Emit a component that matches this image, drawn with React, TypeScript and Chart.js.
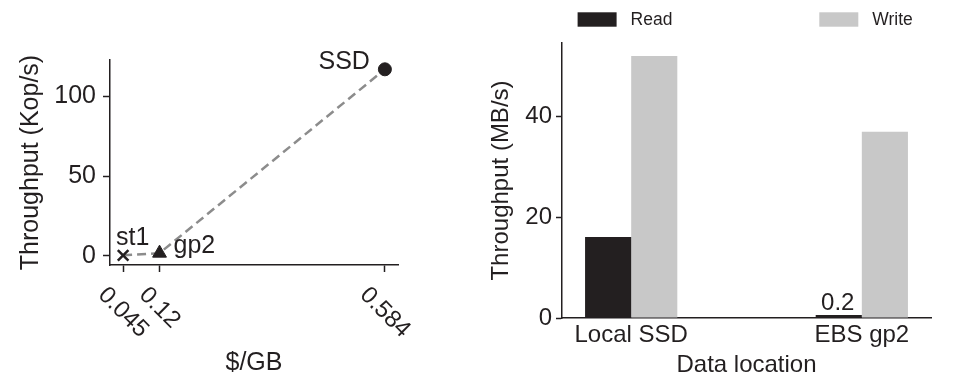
import React, { useEffect, useRef } from 'react';
import { Chart, registerables } from 'chart.js';

Chart.register(...registerables);

// ---- Left panel data ----
const storageNames = ['st1', 'gp2', 'SSD'];
const costPerGB = [0.045, 0.12, 0.584];
const throughputKops = [0.2, 1.6, 117];
const costTicks = [0.045, 0.12, 0.584];
const costTickLabels = ['0.045', '0.12', '0.584'];
const kopsTicks = [0, 50, 100];

// ---- Right panel data ----
const locations = ['Local SSD', 'EBS gp2'];
const seriesNames = ['Read', 'Write'];
const readMBs = [16.1, 0.2];
const writeMBs = [52, 37];
const mbsTicks = [0, 20, 40];

const INK = '#231f20';
const GREY_BAR = '#c8c8c8';
const DASH = '#8c8c8c';
const FAMILY = "'Liberation Sans', Arial, Helvetica, sans-serif";
const LEFT_SIZE = 25;
const RIGHT_SIZE = 24;

const rotatedCostTicks = {
  id: 'rotatedCostTicks',
  afterDraw(chart: any) {
    const { ctx, chartArea } = chart;
    const x = chart.scales.x;
    ctx.save();
    ctx.font = `${LEFT_SIZE - 1}px ${FAMILY}`;
    ctx.fillStyle = INK;
    ctx.textAlign = 'center';
    ctx.textBaseline = 'middle';
    costTicks.forEach((v, i) => {
      const label = costTickLabels[i];
      const w = ctx.measureText(label).width;
      const h = LEFT_SIZE * 0.72;
      const half = ((w + h) * Math.SQRT1_2) / 2;
      ctx.save();
      ctx.translate(x.getPixelForValue(v), chartArea.bottom + 20 + half);
      ctx.rotate(Math.PI / 4);
      ctx.fillText(label, 0, 0);
      ctx.restore();
    });
    ctx.restore();
  },
};

const pointNotes = {
  id: 'pointNotes',
  afterDatasetsDraw(chart: any) {
    const { ctx } = chart;
    const pts = chart.getDatasetMeta(0).data;
    const place = [
      { dx: -7, dy: -10.5, align: 'left' },
      { dx: 14, dy: 0, align: 'left' },
      { dx: -15, dy: 0, align: 'right' },
    ];
    ctx.save();
    ctx.font = `${LEFT_SIZE}px ${FAMILY}`;
    ctx.fillStyle = INK;
    ctx.textBaseline = 'alphabetic';
    storageNames.forEach((name, i) => {
      const p = pts[i];
      const o = place[i];
      ctx.textAlign = o.align;
      ctx.fillText(name, p.x + o.dx, p.y + o.dy);
    });
    ctx.restore();
  },
};

const seriesLegend = {
  id: 'seriesLegend',
  afterDraw(chart: any) {
    const { ctx, chartArea } = chart;
    const starts = [15.6, 257.3];
    ctx.save();
    ctx.font = `17.5px ${FAMILY}`;
    ctx.textBaseline = 'middle';
    ctx.textAlign = 'left';
    chart.data.datasets.forEach((ds: any, i: number) => {
      const x0 = chartArea.left + starts[i];
      ctx.fillStyle = ds.backgroundColor;
      ctx.fillRect(x0, 12.3, 39, 14.4);
      ctx.fillStyle = INK;
      ctx.fillText(ds.label, x0 + 53, 19.8);
    });
    ctx.restore();
  },
};

const barNotes = {
  id: 'barNotes',
  afterDatasetsDraw(chart: any) {
    const { ctx } = chart;
    const meta = chart.getDatasetMeta(0);
    ctx.save();
    ctx.font = `${RIGHT_SIZE}px ${FAMILY}`;
    ctx.fillStyle = INK;
    ctx.textAlign = 'center';
    ctx.textBaseline = 'alphabetic';
    readMBs.forEach((v, i) => {
      if (v >= 1) return;
      const bar = meta.data[i];
      ctx.fillText(String(v), bar.x - 1, bar.y - 5);
    });
    ctx.restore();
  },
};

export default function App() {
  const leftRef = useRef<HTMLCanvasElement>(null);
  const rightRef = useRef<HTMLCanvasElement>(null);

  useEffect(() => {
    const leftFont = { family: FAMILY, size: LEFT_SIZE };
    const rightFont = { family: FAMILY, size: RIGHT_SIZE };

    const left = new Chart(leftRef.current as HTMLCanvasElement, {
      type: 'line',
      data: {
        datasets: [
          {
            label: 'Throughput',
            data: costPerGB.map((x, i) => ({ x, y: throughputKops[i] })),
            borderColor: DASH,
            borderWidth: 2.5,
            borderDash: [9, 5],
            tension: 0,
            fill: false,
            pointStyle: ['crossRot', 'triangle', 'circle'],
            pointRadius: [7.5, 8, 6.5],
            pointBorderWidth: [2.5, 1, 1],
            pointBackgroundColor: INK,
            pointBorderColor: INK,
          } as any,
        ],
      },
      options: {
        responsive: false,
        animation: false,
        layout: { padding: { left: 0, right: 82, top: 60, bottom: 0 } },
        plugins: { legend: { display: false }, tooltip: { enabled: false } },
        scales: {
          x: {
            type: 'linear',
            min: 0.018,
            max: 0.611,
            afterBuildTicks: (s: any) => {
              s.ticks = costTicks.map((v) => ({ value: v }));
            },
            afterFit: (s: any) => {
              s.height = 122;
            },
            ticks: { display: false, autoSkip: false },
            grid: {
              display: true,
              drawOnChartArea: false,
              drawTicks: true,
              tickLength: 7,
              tickColor: INK,
              tickWidth: 1.5,
            },
            border: { display: true, color: INK, width: 1.5 },
            title: {
              display: true,
              text: '$/GB',
              color: INK,
              font: leftFont,
              padding: { top: 0, bottom: 9 },
            },
          },
          y: {
            type: 'linear',
            min: -5.85,
            max: 122.85,
            afterBuildTicks: (s: any) => {
              s.ticks = kopsTicks.map((v) => ({ value: v }));
            },
            afterFit: (s: any) => {
              s.width = 110;
            },
            ticks: { color: INK, font: leftFont, padding: 7 },
            grid: {
              display: true,
              drawOnChartArea: false,
              drawTicks: true,
              tickLength: 7,
              tickColor: INK,
              tickWidth: 1.5,
            },
            border: { display: true, color: INK, width: 1.5 },
            title: {
              display: true,
              text: 'Throughput (Kop/s)',
              color: INK,
              font: leftFont,
              padding: { top: 16, bottom: 0 },
            },
          },
        },
      } as any,
      plugins: [rotatedCostTicks, pointNotes],
    });

    const right = new Chart(rightRef.current as HTMLCanvasElement, {
      type: 'bar',
      data: {
        datasets: [
          {
            label: seriesNames[0],
            data: locations.map((_, i) => ({ x: i, y: readMBs[i] })),
            backgroundColor: INK,
            borderWidth: 0,
            minBarLength: 3,
            categoryPercentage: 0.4,
            barPercentage: 1,
          },
          {
            label: seriesNames[1],
            data: locations.map((_, i) => ({ x: i, y: writeMBs[i] })),
            backgroundColor: GREY_BAR,
            borderWidth: 0,
            categoryPercentage: 0.4,
            barPercentage: 1,
          },
        ] as any,
      },
      options: {
        responsive: false,
        animation: false,
        layout: { padding: { left: 0, right: 34, top: 43, bottom: 0 } },
        plugins: { legend: { display: false }, tooltip: { enabled: false } },
        scales: {
          x: {
            type: 'linear',
            min: -0.3,
            max: 1.3,
            offset: false,
            afterBuildTicks: (s: any) => {
              s.ticks = locations.map((_, i) => ({ value: i }));
            },
            afterFit: (s: any) => {
              s.height = 69;
            },
            ticks: {
              color: INK,
              font: rightFont,
              padding: 3,
              autoSkip: false,
              maxRotation: 0,
              minRotation: 0,
              callback: (v: any) => locations[Math.round(Number(v))] ?? '',
            },
            grid: { display: false, drawTicks: false, offset: false },
            border: { display: true, color: INK, width: 1.5 },
            title: {
              display: true,
              text: 'Data location',
              color: INK,
              font: rightFont,
              padding: { top: 0, bottom: 7 },
            },
          },
          y: {
            type: 'linear',
            min: 0,
            max: 54.6,
            afterBuildTicks: (s: any) => {
              s.ticks = mbsTicks.map((v) => ({ value: v }));
            },
            afterFit: (s: any) => {
              s.width = 82;
            },
            ticks: { color: INK, font: rightFont, padding: 4 },
            grid: {
              display: true,
              drawOnChartArea: false,
              drawTicks: true,
              tickLength: 6,
              tickColor: INK,
              tickWidth: 1.5,
            },
            border: { display: true, color: INK, width: 1.5 },
            title: {
              display: true,
              text: 'Throughput (MB/s)',
              color: INK,
              font: rightFont,
              padding: { top: 7, bottom: 0 },
            },
          },
        },
      } as any,
      plugins: [seriesLegend, barNotes],
    });

    return () => {
      left.destroy();
      right.destroy();
    };
  }, []);

  return (
    <div
      style={{
        position: 'fixed',
        left: 0,
        top: 0,
        width: 965,
        height: 387,
        background: '#ffffff',
      }}
    >
      <canvas
        ref={leftRef}
        width={480}
        height={387}
        style={{ position: 'absolute', left: 0, top: 0, width: 480, height: 387 }}
      />
      <canvas
        ref={rightRef}
        width={485}
        height={387}
        style={{ position: 'absolute', left: 480, top: 0, width: 485, height: 387 }}
      />
    </div>
  );
}
